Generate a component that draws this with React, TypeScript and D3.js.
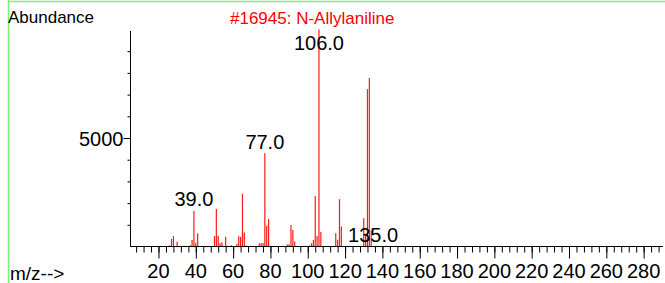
import * as d3 from 'd3';
import { type FC, useEffect, useRef } from 'react';

// spectrum peaks (m/z, abundance)
const peakMz = [
  26, 27, 28, 30, 37, 38, 39, 40, 41, 50, 51, 52, 53, 54, 56, 59, 62, 63, 64, 65,
  66, 67, 74, 75, 76, 77, 78, 79, 89, 90, 91, 92, 93, 101, 102, 103, 104, 105,
  106, 107, 115, 116, 117, 118, 130, 131, 132, 133, 134,
];
const peakAbundance = [
  60, 350, 480, 220, 60, 300, 1640, 175, 610, 480, 1730, 490, 150, 180, 450, 60,
  130, 470, 440, 2430, 645, 50, 150, 150, 160, 4300, 950, 1260, 90, 100, 990,
  760, 230, 50, 150, 300, 2330, 480, 9999, 670, 615, 310, 2180, 920, 1300, 500,
  7250, 7760, 750,
];

// annotated peaks
const labelMz = [39, 77, 106, 135];
const labelText = ['39.0', '77.0', '106.0', '135.0'];
const labelAt = [1640, 4300, 8850, 0];

const xMajorTicks = [20, 40, 60, 80, 100, 120, 140, 160, 180, 200, 220, 240, 260, 280];
const yMajorTicks = [5000];

const W = 665;
const H = 283;
const FONT = '"Liberation Sans", Arial, sans-serif';

const Spectrum: FC = () => {
  const svgRef = useRef<SVGSVGElement>(null);

  useEffect(() => {
    if (!svgRef.current) return;
    const svg = d3.select(svgRef.current);
    svg.selectAll('*').remove();

    const x = d3.scaleLinear().domain([5, 290]).range([130.5, 662.3]);
    const y = d3.scaleLinear().domain([0, 9930]).range([246.5, 31]);
    const baseY = y(0);

    // green frame
    svg.append('line').attr('x1', 8.5).attr('x2', 8.5).attr('y1', 0).attr('y2', H)
      .attr('stroke', '#7ef07e').attr('stroke-width', 1.5);
    svg.append('line').attr('x1', 8).attr('x2', W).attr('y1', 1.5).attr('y2', 1.5)
      .attr('stroke', '#7ef07e').attr('stroke-width', 1.5);

    // peaks
    svg.append('g')
      .selectAll('line')
      .data(peakMz)
      .join('line')
      .attr('x1', (d) => x(d))
      .attr('x2', (d) => x(d))
      .attr('y1', baseY)
      .attr('y2', (_, i) => y(peakAbundance[i]))
      .attr('stroke', '#ff1a1a')
      .attr('stroke-width', 1.2);

    // x axis
    const xAxis = svg.append('g').attr('transform', `translate(0,${baseY})`);
    xAxis.call(
      d3.axisBottom(x).tickValues(d3.range(8, 290, 4)).tickSize(6).tickFormat(() => ''),
    );
    xAxis.append('g').call(
      d3.axisBottom(x).tickValues(xMajorTicks).tickSize(12).tickFormat(() => ''),
    ).call((a) => a.select('.domain').remove());
    xAxis.selectAll('.domain').attr('d', `M${x(5)},0H${W - 2}`);
    xAxis.selectAll('line').attr('stroke', '#000');
    xAxis.selectAll('.domain').attr('stroke', '#000');

    svg.append('g')
      .selectAll('text')
      .data(xMajorTicks)
      .join('text')
      .attr('x', (d) => x(d))
      .attr('y', 278)
      .attr('text-anchor', 'middle')
      .attr('font-family', FONT)
      .attr('font-size', 20)
      .attr('fill', '#000')
      .text((d) => d);

    // y axis
    const yAxis = svg.append('g').attr('transform', `translate(${x(5)},0)`);
    yAxis.call(
      d3.axisLeft(y).tickValues(d3.range(1000, 10000, 1000)).tickSize(3).tickFormat(() => ''),
    );
    yAxis.append('g').call(
      d3.axisLeft(y).tickValues(yMajorTicks).tickSize(7).tickFormat(() => ''),
    ).call((a) => a.select('.domain').remove());
    yAxis.selectAll('.domain').attr('d', `M0,${y(9930)}V${baseY}`).attr('stroke', '#000');
    yAxis.selectAll('line').attr('stroke', '#000');

    svg.append('g')
      .selectAll('text')
      .data(yMajorTicks)
      .join('text')
      .attr('x', 123.5)
      .attr('y', (d) => y(d) + 8.5)
      .attr('text-anchor', 'end')
      .attr('font-family', FONT)
      .attr('font-size', 20)
      .attr('fill', '#000')
      .text((d) => d);

    // peak labels
    svg.append('g')
      .selectAll('text')
      .data(labelMz)
      .join('text')
      .attr('x', (d) => x(d))
      .attr('y', (_, i) => y(labelAt[i]) - 4.5)
      .attr('text-anchor', 'middle')
      .attr('font-family', FONT)
      .attr('font-size', 20)
      .attr('fill', '#000')
      .text((_, i) => labelText[i]);

    // titles
    svg.append('text').attr('x', 8).attr('y', 23)
      .attr('font-family', FONT).attr('font-size', 17).attr('fill', '#000')
      .text('Abundance');
    svg.append('text').attr('x', 230).attr('y', 23.5)
      .attr('font-family', FONT).attr('font-size', 17).attr('fill', '#ff0000')
      .text('#16945: N-Allylaniline');
    svg.append('text').attr('x', 10).attr('y', 279.5)
      .attr('font-family', FONT).attr('font-size', 19).attr('fill', '#000')
      .text('m/z-->');
  }, []);

  return (
    <svg
      ref={svgRef}
      width={W}
      height={H}
      style={{ position: 'absolute', left: 0, top: 0, background: '#fff' }}
    />
  );
};

export default function App() {
  return <Spectrum />;
}
